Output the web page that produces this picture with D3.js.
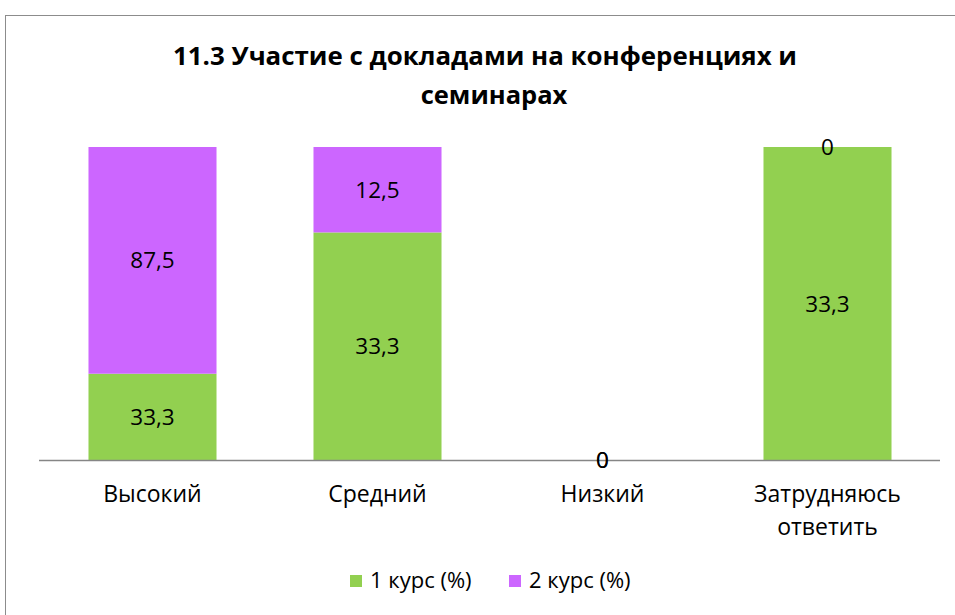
<!DOCTYPE html>
<html><head><meta charset="utf-8">
<script src="https://cdn.jsdelivr.net/npm/d3@7"></script>
<style>body{margin:0;background:#fff}svg{display:block}</style>
</head><body>
<svg id="c" width="955" height="615"></svg>
<script>
const categories = [["Высокий"],["Средний"],["Низкий"],["Затрудняюсь","ответить"]];
const seriesNames = ["1 курс (%)","2 курс (%)"];
const course1 = [33.3, 33.3, 0, 33.3];
const course2 = [87.5, 12.5, 0, 0];
const labels1 = ["33,3","33,3","0","33,3"];
const labels2 = ["87,5","12,5","0","0"];
const colors = ["#92D050","#CC66FF"];

const svg = d3.select("#c");
svg.append("rect").attr("x",5.5).attr("y",15.5).attr("width",1000).attr("height",700)
  .attr("fill","#fff").attr("stroke","#8c8c8c").attr("stroke-width",1);

const textFont = "'Open Sans','Noto Sans',sans-serif";
const title = svg.append("text").attr("text-anchor","middle").attr("font-family",textFont)
  .attr("font-weight","bold").attr("font-size",25.5).attr("fill","#000");
title.append("tspan").attr("x",485).attr("y",65).attr("textLength",624).attr("lengthAdjust","spacingAndGlyphs")
  .text("11.3 Участие с докладами на конференциях и");
title.append("tspan").attr("x",494).attr("y",104).text("семинарах");

const x = d3.scaleBand().domain(d3.range(categories.length)).range([40,940]).paddingInner(0.431).paddingOuter(0.2155);
const y = d3.scaleLinear().domain([0,1]).range([460,147]);

const data = categories.map((c,i)=>{
  const tot = course1[i]+course2[i];
  const f1 = tot? course1[i]/tot : 0;
  const f2 = tot? course2[i]/tot : 0;
  return {i, segs:[{s:0,y0:0,y1:f1,lab:labels1[i]},{s:1,y0:f1,y1:f1+f2,lab:labels2[i]}]};
});

data.forEach(d=>{
  d.segs.forEach(s=>{
    if (s.y1>s.y0) svg.append("rect").attr("x",x(d.i)).attr("width",x.bandwidth())
      .attr("y",y(s.y1)).attr("height",y(s.y0)-y(s.y1)).attr("fill",colors[s.s]);
  });
});

svg.append("line").attr("x1",39).attr("x2",940).attr("y1",460.5).attr("y2",460.5)
  .attr("stroke","#868686").attr("stroke-width",1.5);

data.forEach(d=>{
  d.segs.forEach(s=>{
    const cy = (y(s.y0)+y(s.y1))/2;
    svg.append("text").attr("x",x(d.i)+x.bandwidth()/2).attr("y",cy).attr("dy","0.36em")
      .attr("text-anchor","middle").attr("font-family",textFont).attr("font-size",22.5)
      .attr("fill","#000").text(s.lab);
  });
});

categories.forEach((c,i)=>{
  const t = svg.append("text").attr("text-anchor","middle").attr("font-family",textFont)
    .attr("font-size",23).attr("fill","#000");
  c.forEach((ln,k)=>t.append("tspan").attr("x",x(i)+x.bandwidth()/2).attr("y",502+k*33).text(ln));
});

const legX = [350, 509];
seriesNames.forEach((n,k)=>{
  svg.append("rect").attr("x",legX[k]).attr("y",575).attr("width",12).attr("height",12).attr("fill",colors[k]);
  svg.append("text").attr("x",legX[k]+20).attr("y",588).attr("font-family",textFont)
    .attr("font-size",22).attr("fill","#000").text(n);
});
</script>
</body></html>
